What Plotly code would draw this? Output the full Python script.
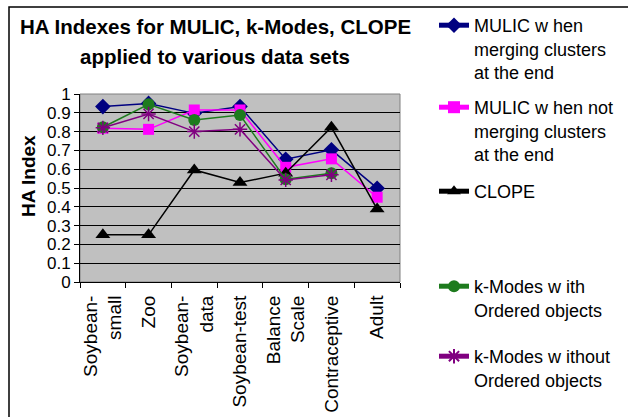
import plotly.graph_objects as go

categories = ["Soybean-<br>small", "Zoo", "Soybean-<br>data", "Soybean-test",
              "Balance<br>Scale", "Contraceptive", "Adult"]

mulic_merge = [0.933, 0.950, 0.897, 0.933, 0.653, 0.703, 0.499]
mulic_nomerge = [0.818, 0.812, 0.915, 0.915, 0.610, 0.655, 0.451]
clope = [0.251, 0.251, 0.596, 0.529, 0.579, 0.823, 0.388]
kmodes_ordered = [0.823, 0.945, 0.862, 0.888, 0.547, 0.579, None]
kmodes_unordered = [0.820, 0.894, 0.800, 0.812, 0.543, 0.570, None]

y_ticks = [0, 0.1, 0.2, 0.3, 0.4, 0.5, 0.6, 0.7, 0.8, 0.9, 1]
y_tick_labels = ["0", "0.1", "0.2", "0.3", "0.4", "0.5", "0.6", "0.7", "0.8", "0.9", "1"]

series_names = [
    "MULIC w hen<br>merging clusters<br>at the end",
    "MULIC w hen not<br>merging clusters<br>at the end",
    "CLOPE",
    "k-Modes w ith<br>Ordered objects",
    "k-Modes w ithout<br>Ordered objects",
]
title_lines = ["HA Indexes for MULIC, k-Modes, CLOPE", "applied to various data sets"]
y_title = "HA Index"

W, H = 628, 417
L, R, T, B = 80, 400, 94, 282
FONT = "Liberation Sans, Arial, sans-serif"

fig = go.Figure()

specs = [
    (mulic_merge, "#000080", "diamond", 12, "legend"),
    (mulic_nomerge, "#FF00FF", "square", 11, "legend2"),
    (clope, "#000000", "triangle-up", 13, "legend3"),
    (kmodes_ordered, "#1E7B1E", "circle", 12, "legend4"),
    (kmodes_unordered, "#800080", "asterisk-open", 12, "legend5"),
]
for (vals, color, sym, size, lg), name in zip(specs, series_names):
    marker = dict(symbol=sym, size=size, color=color)
    if sym == "asterisk-open":
        marker["line"] = dict(color=color, width=1.5)
    fig.add_trace(go.Scatter(
        x=categories, y=vals, name=name, mode="lines+markers",
        line=dict(color=color, width=1.5), marker=marker,
        legend=lg, connectgaps=False,
    ))

legend_y = [7, 89, 173, 268, 338]
legend_common = dict(
    xref="container", yref="container", xanchor="left", yanchor="top",
    x=434 / W, bgcolor="rgba(0,0,0,0)", borderwidth=0, valign="top",
    font=dict(family=FONT, size=18, color="#000000"), itemsizing="constant",
)
legends = {}
for i, yy in enumerate(legend_y):
    key = "legend" if i == 0 else f"legend{i+1}"
    legends[key] = dict(legend_common, y=1 - yy / H)

pw, ph = R - L, B - T

fig.update_layout(
    width=W, height=H,
    margin=dict(l=L, r=W - R, t=T, b=H - B, pad=0),
    paper_bgcolor="#FFFFFF", plot_bgcolor="#C0C0C0",
    font=dict(family=FONT, size=18, color="#000000"),
    showlegend=True,
    **legends,
)

for txt, yc in zip(title_lines, [27, 57]):
    fig.add_annotation(
        text=f"<b>{txt}</b>", xref="paper", yref="paper",
        x=(215 - L) / pw, y=(B - yc) / ph, xanchor="center", yanchor="middle",
        showarrow=False, font=dict(family=FONT, size=20.5, color="#000000"),
    )

fig.add_annotation(
    text=f"<b>{y_title}</b>", xref="paper", yref="paper", textangle=-90,
    x=(28 - L) / pw, y=(B - 176) / ph, xanchor="center", yanchor="middle",
    showarrow=False, font=dict(family=FONT, size=19, color="#000000"),
)

fig.update_xaxes(
    type="category", tickson="boundaries", ticks="outside", ticklen=5,
    tickcolor="#000000", showline=True, linecolor="#000000", linewidth=1,
    showgrid=False, tickangle=-90, tickfont=dict(size=19),
    range=[-0.5, 6.5], automargin=False, ticklabelstandoff=5,
)
fig.update_yaxes(
    range=[0, 1], tickmode="array", tickvals=y_ticks, ticktext=y_tick_labels,
    ticks="outside", ticklen=5,
    tickcolor="#000000", showline=True, linecolor="#000000", linewidth=1,
    showgrid=True, gridcolor="#000000", gridwidth=1, zeroline=False,
    tickfont=dict(size=17), automargin=False,
)

# plot-area frame (top/right grey)
fig.add_shape(type="rect", xref="paper", yref="paper", x0=0, x1=1, y0=0, y1=1,
              line=dict(color="#808080", width=1), layer="below")
# outer chart border
fig.add_shape(type="rect", xref="paper", yref="paper",
              x0=(9 - L) / pw, x1=(640 - L) / pw,
              y0=(B - 430) / ph, y1=(B - 7) / ph,
              line=dict(color="#000000", width=1.5))

fig.write_html("out.html")
